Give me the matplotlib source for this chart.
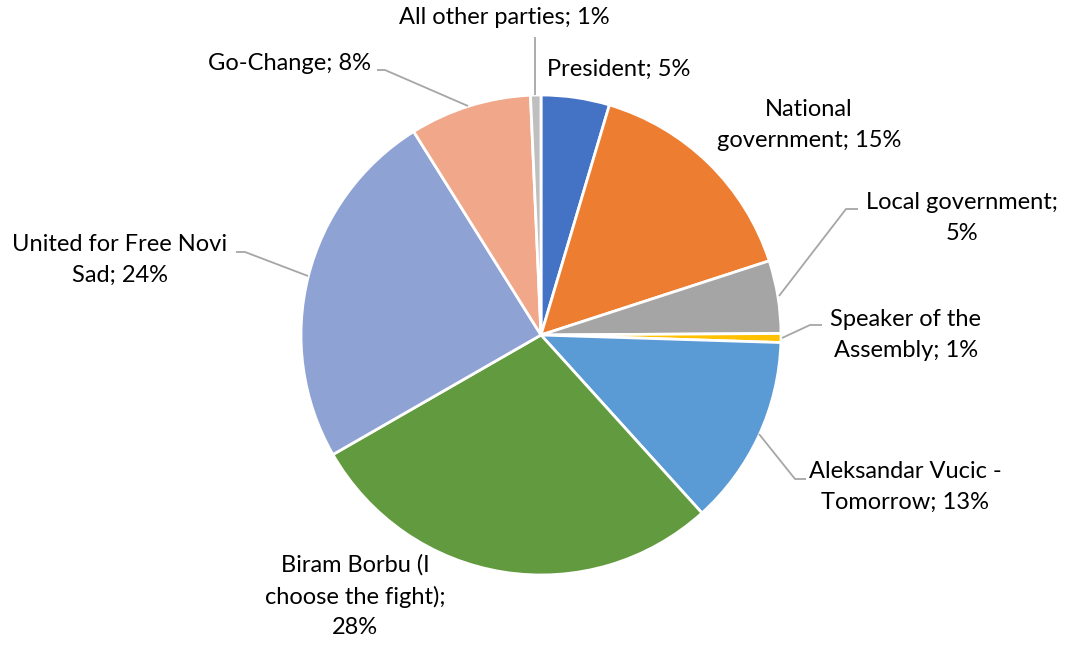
import textwrap
import matplotlib.pyplot as plt

# shares in percent, clockwise from 12 o'clock
names = [
    "President",
    "National government",
    "Local government",
    "Speaker of the Assembly",
    "Aleksandar Vucic - Tomorrow",
    "Biram Borbu (I choose the fight)",
    "United for Free Novi Sad",
    "Go-Change",
    "All other parties",
]
shares = [4.6, 15.4, 4.9, 0.6, 12.8, 28.4, 24.4, 8.2, 0.7]
colors = ["#4472C4", "#ED7D31", "#A5A5A5", "#FFC000", "#5B9BD5",
          "#629A3F", "#8FA2D4", "#F1A78A", "#BFBFBF"]

W, H = 1072, 645
CX, CY, R = 541, 335, 240

# label layout (pixel coords, y from top): centre x, centre y, wrap width
label_pos = [
    (619, 69, 40),
    (809, 125, 16),
    (962, 218, 17),
    (906, 335, 14),
    (905, 487, 18),
    (355, 596, 18),
    (120, 260, 20),
    (290, 63, 40),
    (504, 17, 40),
]
# leader lines (pixel coords), None where Excel drew none
leaders = [
    None,
    None,
    [(858, 209), (846, 209), (779, 296)],
    [(822, 325), (810, 325), (782, 338)],
    [(806, 479), (795, 479), (759, 434)],
    None,
    [(236, 252), (245, 252), (308, 276)],
    [(377, 70), (385, 70), (468, 106)],
    [(535, 37), (535, 95)],
]

plt.rcParams["font.family"] = ["Lato", "DejaVu Sans"]

fig = plt.figure(figsize=(W / 100, H / 100), dpi=100)
ax = fig.add_axes([0, 0, 1, 1])

ax.pie(shares, colors=colors, startangle=90, counterclock=False,
       center=(CX, H - CY), radius=R,
       wedgeprops=dict(edgecolor="white", linewidth=2))

ax.set_xlim(0, W)
ax.set_ylim(0, H)
ax.set_aspect("equal")
ax.axis("off")

total = sum(shares)
for name, v, (x, y, w), lead in zip(names, shares, label_pos, leaders):
    txt = textwrap.fill(f"{name}; {round(v / total * 100)}%", width=w)
    ax.text(x, H - y, txt, ha="center", va="center", multialignment="center",
            fontsize=17, color="#000000", linespacing=1.55)
    if lead:
        xs = [p[0] for p in lead]
        ys = [H - p[1] for p in lead]
        ax.plot(xs, ys, color="#A6A6A6", lw=1.3, solid_capstyle="butt")

fig.savefig("out.png", dpi=100)
